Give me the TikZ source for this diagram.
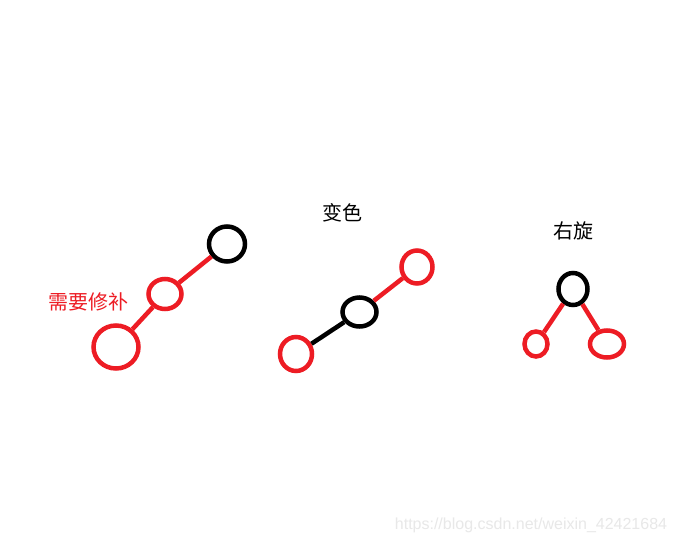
\documentclass[tikz,border=0pt]{standalone}
\usepackage{fontspec}
\newfontfamily\cjk{Noto Sans CJK SC}
\newfontfamily\wmfont{Liberation Sans}
\usetikzlibrary{shapes.geometric}
\definecolor{pred}{RGB}{237,28,36}
\definecolor{wmgray}{RGB}{232,232,232}
\tikzset{
  nd/.style={ellipse, draw, line width=4.5pt, inner sep=0pt, minimum width=#1},
  rednd/.style={nd=#1, draw=pred},
  blknd/.style={nd=#1, draw=black},
  redln/.style={draw=pred, line width=4.5pt},
  blkln/.style={draw=black, line width=4.5pt},
  lbl/.style={font=\cjk\fontsize{20}{24}\selectfont, inner sep=0pt},
}
\begin{document}
\begin{tikzpicture}[x=1pt,y=-1pt]
\path[use as bounding box, fill=white] (0,0) rectangle (677,543);
% left group
\node[blknd=36pt, minimum height=35pt] (l1) at (227,244) {};
\node[rednd=33pt, minimum height=30pt] (l2) at (165,294) {};
\node[rednd=45pt, minimum height=43pt] (l3) at (116,347) {};
\draw[redln] (l1) -- (l2);
\draw[redln] (l2) -- (l3);
\node[lbl, text=pred] (t1) at (88,302) {需要修补};
% middle group
\node[lbl] (t2) at (342,213) {变色};
\node[rednd=31pt, minimum height=33pt] (m1) at (417,267) {};
\node[blknd=34pt, minimum height=29pt] (m2) at (359.5,312) {};
\node[rednd=32pt, minimum height=34pt] (m3) at (296,354) {};
\draw[redln] (m2) -- (m1);
\draw[blkln] (m2) -- (m3);
% right group
\node[lbl] (t3) at (573,231) {右旋};
\node[blknd=29pt, minimum height=32pt] (r1) at (573,289) {};
\node[rednd=23pt, minimum height=25pt] (r2) at (536,344) {};
\node[rednd=34pt, minimum height=27pt] (r3) at (607,344) {};
\draw[redln] (r1) -- (r2);
\draw[redln] (r1) -- (r3);
% watermark
\node[font=\wmfont\fontsize{16}{19}\selectfont, text=wmgray, inner sep=0pt] (wm) at (531,525) {https://blog.csdn.net/weixin\_42421684};
\end{tikzpicture}
\end{document}
